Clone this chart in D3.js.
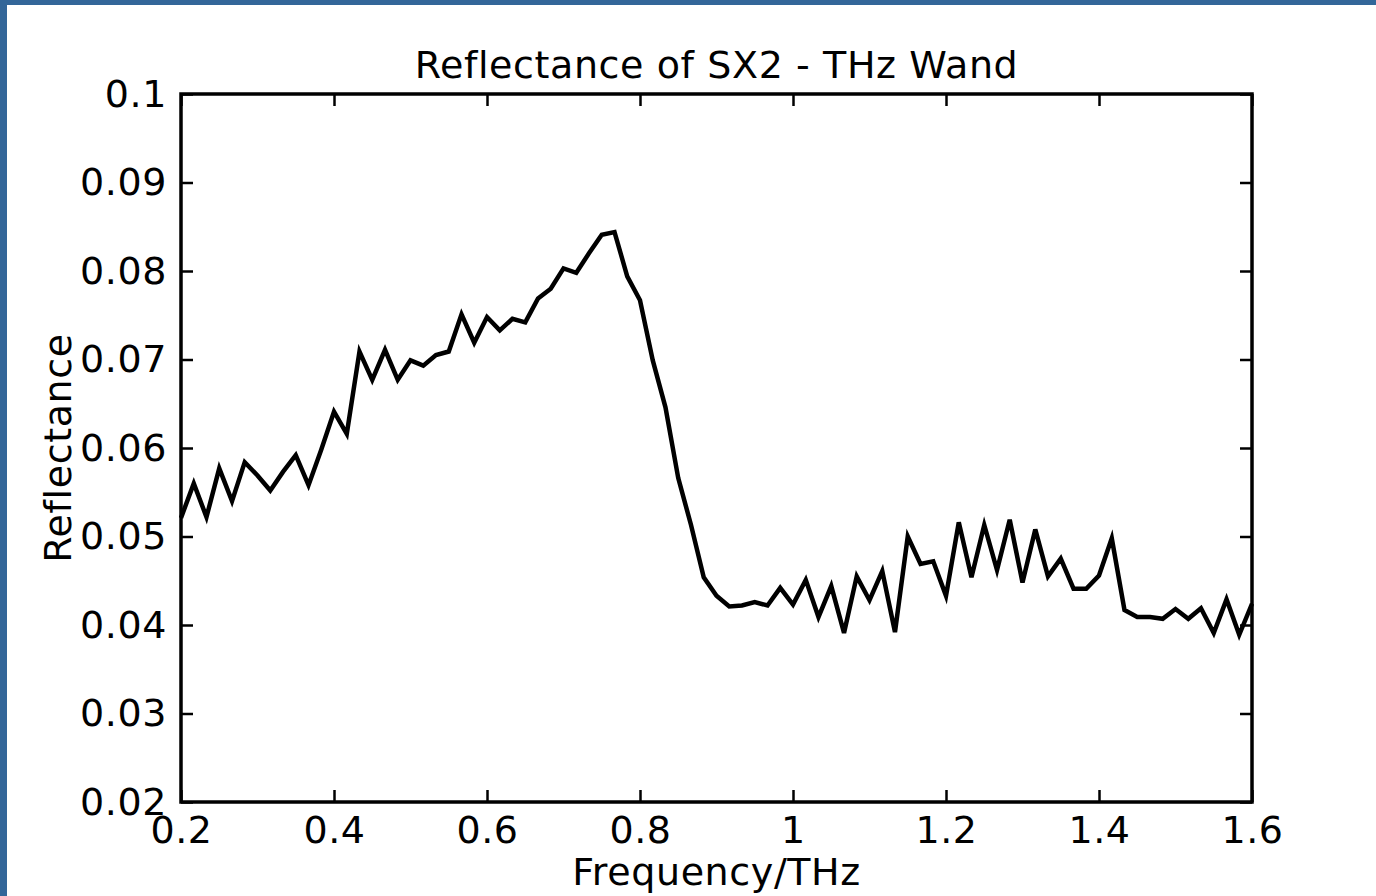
<!DOCTYPE html>
<html>
<head>
<meta charset="utf-8">
<script src="https://cdn.jsdelivr.net/npm/d3@7"></script>
<style>
  html, body { margin: 0; padding: 0; background: #fff; }
  svg { display: block; }
  text { font-family: "DejaVu Sans", Verdana, sans-serif; fill: #000; }
</style>
</head>
<body>
<svg id="chart" width="1376" height="896"></svg>
<script>
// Frequency samples (THz)
const frequency = [
  0.2, 0.2167, 0.2333, 0.25, 0.2667, 0.2833, 0.3, 0.3167, 0.3333, 0.35,
  0.3667, 0.3833, 0.4, 0.4167, 0.4333, 0.45, 0.4667, 0.4833, 0.5, 0.5167,
  0.5333, 0.55, 0.5667, 0.5833, 0.6, 0.6167, 0.6333, 0.65, 0.6667, 0.6833,
  0.7, 0.7167, 0.7333, 0.75, 0.7667, 0.7833, 0.8, 0.8167, 0.8333, 0.85,
  0.8667, 0.8833, 0.9, 0.9167, 0.9333, 0.95, 0.9667, 0.9833, 1.0, 1.0167,
  1.0333, 1.05, 1.0667, 1.0833, 1.1, 1.1167, 1.1333, 1.15, 1.1667, 1.1833,
  1.2, 1.2167, 1.2333, 1.25, 1.2667, 1.2833, 1.3, 1.3167, 1.3333, 1.35,
  1.3667, 1.3833, 1.4, 1.4167, 1.4333, 1.45, 1.4667, 1.4833, 1.5, 1.5167,
  1.5333, 1.55, 1.5667, 1.5833, 1.6
];

// Measured reflectance of SX2
const reflectance = [
  0.0521, 0.0560, 0.0522, 0.0577, 0.0540, 0.0584, 0.0569, 0.0552, 0.0573, 0.0592,
  0.0558, 0.0598, 0.0641, 0.0616, 0.0709, 0.0677, 0.0711, 0.0677, 0.0699, 0.0693,
  0.0705, 0.0709, 0.0751, 0.0719, 0.0748, 0.0733, 0.0746, 0.0742, 0.0769, 0.0780,
  0.0803, 0.0798, 0.0820, 0.0841, 0.0844, 0.0794, 0.0767, 0.0699, 0.0646, 0.0566,
  0.0513, 0.0454, 0.0433, 0.0421, 0.0422, 0.0426, 0.0422, 0.0442, 0.0423, 0.0451,
  0.0409, 0.0444, 0.0391, 0.0455, 0.0428, 0.0461, 0.0392, 0.0500, 0.0469, 0.0472,
  0.0433, 0.0516, 0.0454, 0.0513, 0.0462, 0.0519, 0.0448, 0.0508, 0.0455, 0.0475,
  0.0441, 0.0441, 0.0456, 0.0498, 0.0417, 0.0409, 0.0409, 0.0407, 0.0418, 0.0407,
  0.0419, 0.0391, 0.0429, 0.0389, 0.0424
];

const xTicks = [0.2, 0.4, 0.6, 0.8, 1.0, 1.2, 1.4, 1.6];
const xTickLabels = ["0.2", "0.4", "0.6", "0.8", "1", "1.2", "1.4", "1.6"];
const yTicks = [0.02, 0.03, 0.04, 0.05, 0.06, 0.07, 0.08, 0.09, 0.1];
const yTickLabels = ["0.02", "0.03", "0.04", "0.05", "0.06", "0.07", "0.08", "0.09", "0.1"];

const titleText = "Reflectance of SX2 - THz Wand";
const xLabelText = "Frequency/THz";
const yLabelText = "Reflectance";

const svg = d3.select("#chart");
const W = 1376, H = 896;

// Slide frame: blue strips on the left and top edges
svg.append("rect").attr("x", 0).attr("y", 0).attr("width", W).attr("height", H).attr("fill", "#fff");
svg.append("rect").attr("x", 0).attr("y", 0).attr("width", 7).attr("height", H).attr("fill", "#336699");
svg.append("rect").attr("x", 0).attr("y", 0).attr("width", W).attr("height", 5).attr("fill", "#336699");

const plot = { left: 181, right: 1252, top: 94, bottom: 802 };

const x = d3.scaleLinear().domain([0.2, 1.6]).range([plot.left, plot.right]);
const y = d3.scaleLinear().domain([0.02, 0.1]).range([plot.bottom, plot.top]);

const tickLen = 12;
const fontSize = 38;
const letterSpacing = "0.6px";

function styleText(sel) {
  sel.style("font-family", '"DejaVu Sans", Verdana, sans-serif')
    .style("font-size", fontSize + "px")
    .style("letter-spacing", letterSpacing)
    .attr("fill", "#000");
}

// Bottom axis (inward ticks) with labels
const xAxisBottom = d3.axisBottom(x)
  .tickValues(xTicks)
  .tickSize(-tickLen)
  .tickPadding(tickLen + 6)
  .tickFormat((d, i) => xTickLabels[i]);
const gxb = svg.append("g").attr("transform", `translate(0,${plot.bottom})`).call(xAxisBottom);

// Top axis: ticks only
const gxt = svg.append("g").attr("transform", `translate(0,${plot.top})`)
  .call(d3.axisTop(x).tickValues(xTicks).tickSize(-tickLen).tickFormat(""));

// Left axis with labels
const yAxisLeft = d3.axisLeft(y)
  .tickValues(yTicks)
  .tickSize(-tickLen)
  .tickPadding(tickLen + 2)
  .tickFormat((d, i) => yTickLabels[i]);
const gyl = svg.append("g").attr("transform", `translate(${plot.left},0)`).call(yAxisLeft);

// Right axis: ticks only
const gyr = svg.append("g").attr("transform", `translate(${plot.right},0)`)
  .call(d3.axisRight(y).tickValues(yTicks).tickSize(-tickLen).tickFormat(""));

[gxb, gxt, gyl, gyr].forEach(g => {
  g.select(".domain").remove();
  g.selectAll(".tick line").attr("stroke", "#000").attr("stroke-width", 2.5);
  g.selectAll(".tick text").call(styleText);
});
gxb.selectAll(".tick text").attr("dy", "0.6em");

// Plot frame
svg.append("rect")
  .attr("x", plot.left).attr("y", plot.top)
  .attr("width", plot.right - plot.left).attr("height", plot.bottom - plot.top)
  .attr("fill", "none").attr("stroke", "#000").attr("stroke-width", 3.5);

// Reflectance curve
const series = frequency.map((f, i) => ({ f, r: reflectance[i] }));
const line = d3.line().x(d => x(d.f)).y(d => y(d.r));

svg.append("path")
  .datum(series)
  .attr("fill", "none")
  .attr("stroke", "#000")
  .attr("stroke-width", 4.5)
  .attr("stroke-linejoin", "miter")
  .attr("d", line);

// Title and axis labels
svg.append("text")
  .attr("x", (plot.left + plot.right) / 2).attr("y", 78)
  .attr("text-anchor", "middle")
  .call(styleText)
  .text(titleText);

svg.append("text")
  .attr("x", (plot.left + plot.right) / 2).attr("y", 885)
  .attr("text-anchor", "middle")
  .call(styleText)
  .text(xLabelText);

svg.append("text")
  .attr("transform", `translate(71,${(plot.top + plot.bottom) / 2}) rotate(-90)`)
  .attr("text-anchor", "middle")
  .call(styleText)
  .text(yLabelText);
</script>
</body>
</html>
